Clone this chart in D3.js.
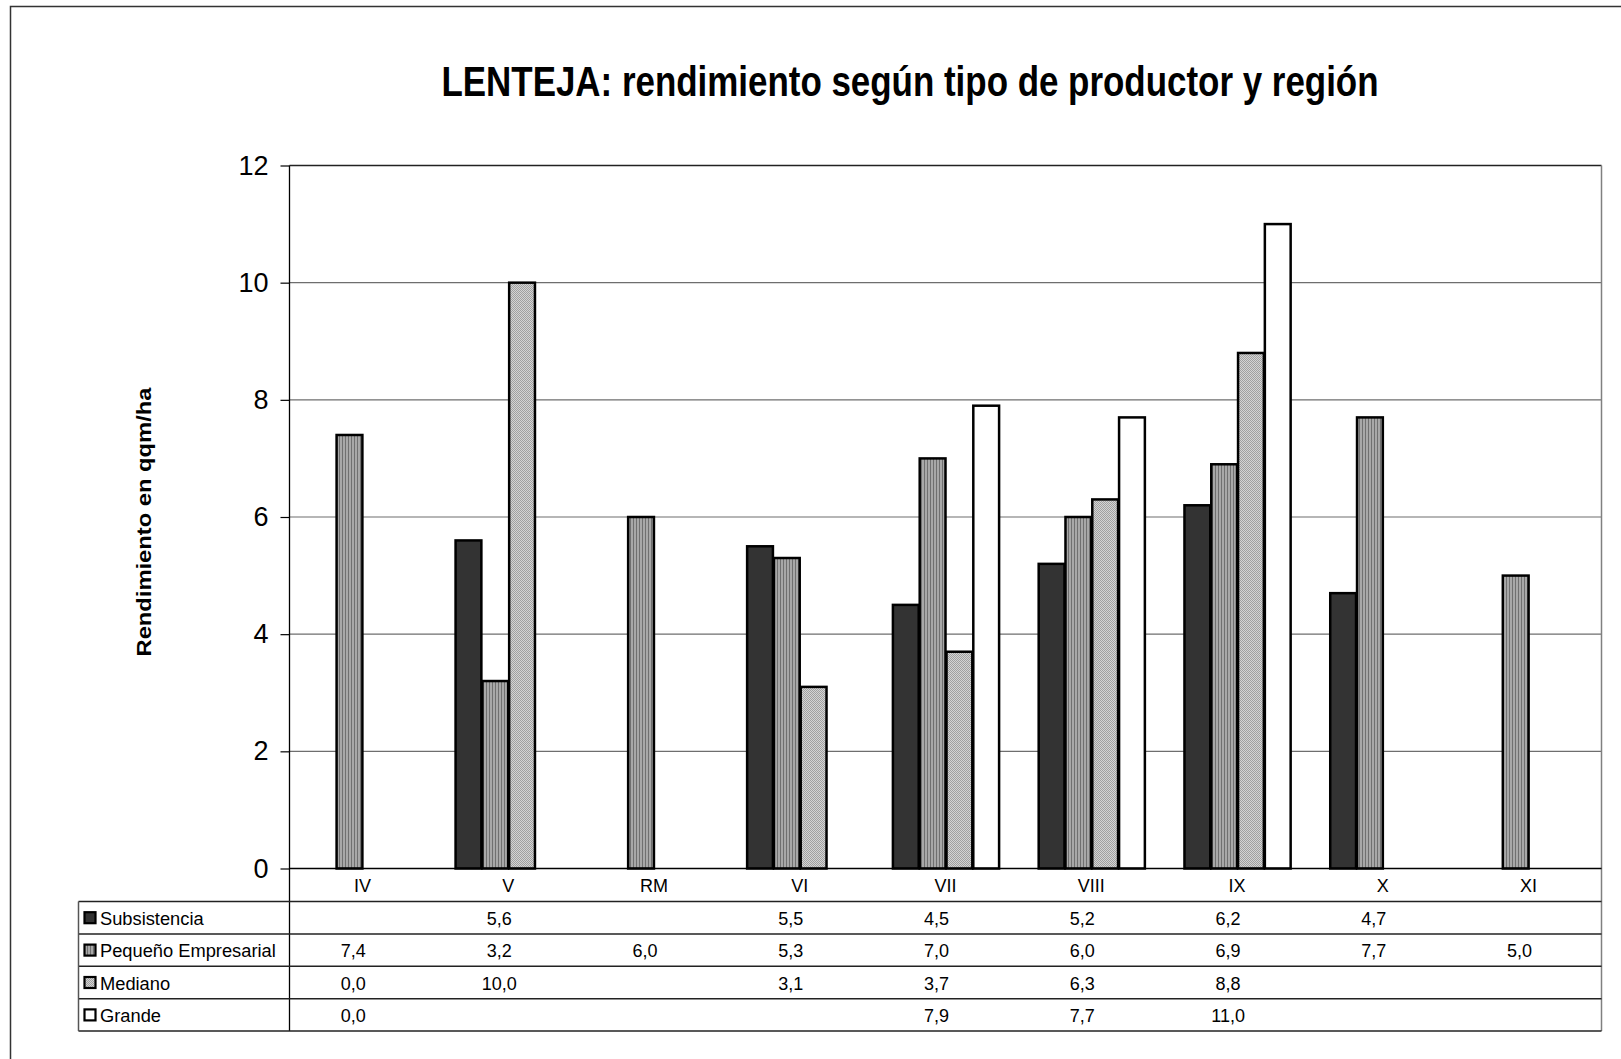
<!DOCTYPE html>
<html><head><meta charset="utf-8">
<script src="https://cdn.jsdelivr.net/npm/d3@7"></script>
<style>
html,body{margin:0;padding:0;background:#fff;}
svg{display:block;}
text{font-family:"Liberation Sans",Arial,sans-serif;fill:#000;}
</style></head>
<body>
<svg id="chart" width="1621" height="1059"></svg>
<script>
// ---- data ----
const categories = ["IV","V","RM","VI","VII","VIII","IX","X","XI"];
const seriesNames = ["Subsistencia","Pequeño Empresarial","Mediano","Grande"];
const subsistencia = [null,5.6,null,5.5,4.5,5.2,6.2,4.7,null];
const pequenoEmpresarial = [7.4,3.2,6.0,5.3,7.0,6.0,6.9,7.7,5.0];
const mediano = [0.0,10.0,null,3.1,3.7,6.3,8.8,null,null];
const grande = [0.0,null,null,null,7.9,7.7,11.0,null,null];
const yTicks = [0,2,4,6,8,10,12];
const titleText = "LENTEJA: rendimiento según tipo de productor y región";
const yLabel = "Rendimiento en qqm/ha";

const seriesValues = [subsistencia, pequenoEmpresarial, mediano, grande];

// ---- layout ----
const svg = d3.select("#chart");
const plotL = 289.5, plotR = 1601.5, plotT = 165.5, plotB = 868.5;
const tableL = 78.5, rowTop = 901.5, rowH = 32.4;

// patterns
const defs = svg.append("defs");
const pStripe = defs.append("pattern").attr("id","pStripe").attr("patternUnits","userSpaceOnUse")
  .attr("width",3).attr("height",3);
pStripe.append("rect").attr("width",3).attr("height",3).attr("fill","#a8a8a8");
pStripe.append("rect").attr("width",1).attr("height",3).attr("fill","#707070");
const pCheck = defs.append("pattern").attr("id","pCheck").attr("patternUnits","userSpaceOnUse")
  .attr("width",2).attr("height",2);
pCheck.append("rect").attr("width",2).attr("height",2).attr("fill","#d4d4d4");
pCheck.append("rect").attr("width",1).attr("height",1).attr("fill","#a0a0a0");
pCheck.append("rect").attr("x",1).attr("y",1).attr("width",1).attr("height",1).attr("fill","#a0a0a0");
const fills = ["#333333","url(#pStripe)","url(#pCheck)","#ffffff"];

// frame
svg.append("path").attr("d",`M10.5,1059 V6.5 H1621`).attr("fill","none").attr("stroke","#333").attr("stroke-width",1.5);

// scales
const x0 = d3.scaleBand().domain(categories).range([plotL, plotR]).paddingInner(0).paddingOuter(0);
const x1 = d3.scaleBand().domain(seriesNames).range([0, x0.bandwidth()]).paddingInner(0).paddingOuter(0.72);
const y = d3.scaleLinear().domain([0,12]).range([plotB, plotT]);

// gridlines
svg.append("g").selectAll("line").data(yTicks.filter(d=>d>0 && d<12)).join("line")
  .attr("x1",plotL).attr("x2",plotR).attr("y1",d=>y(d)).attr("y2",d=>y(d))
  .attr("stroke","#6e6e6e").attr("stroke-width",1.2);
// plot top / right
svg.append("line").attr("x1",plotL).attr("x2",plotR).attr("y1",y(12)).attr("y2",y(12)).attr("stroke","#222").attr("stroke-width",1.5);
svg.append("line").attr("x1",plotR).attr("x2",plotR).attr("y1",plotT).attr("y2",rowTop+4*rowH).attr("stroke","#808080").attr("stroke-width",1.5);

// y axis
const yAxis = d3.axisLeft(y).tickValues(yTicks).tickSize(9).tickPadding(12).tickFormat(d3.format("d"));
const gy = svg.append("g").attr("transform",`translate(${plotL},0)`).call(yAxis);
gy.select(".domain").remove();
gy.selectAll(".tick line").attr("stroke","#000").attr("stroke-width",1.2);
gy.selectAll(".tick text").attr("font-size",27).attr("font-family","Liberation Sans, Arial, sans-serif").attr("fill","#000");
svg.append("line").attr("x1",plotL).attr("x2",plotL).attr("y1",plotT).attr("y2",rowTop+4*rowH).attr("stroke","#000").attr("stroke-width",1.3);

// bars
const barData = [];
categories.forEach((c,ci)=>{
  seriesNames.forEach((s,si)=>{
    const v = seriesValues[si][ci];
    if (v !== null) barData.push({c, s, si, v});
  });
});
svg.append("g").selectAll("rect").data(barData.filter(d=>d.v>0)).join("rect")
  .attr("x",d=>x0(d.c)+x1(d.s)+1)
  .attr("width",x1.bandwidth()-1)
  .attr("y",d=>y(d.v))
  .attr("height",d=>y(0)-y(d.v))
  .attr("fill",d=>fills[d.si])
  .attr("stroke","#000").attr("stroke-width",2.5);

// zero line
svg.append("line").attr("x1",plotL).attr("x2",plotR).attr("y1",y(0)).attr("y2",y(0)).attr("stroke","#000").attr("stroke-width",1.5);

// category labels
const xAxis = d3.axisBottom(x0).tickSize(0).tickPadding(11);
const gx = svg.append("g").attr("transform",`translate(0,${plotB})`).call(xAxis);
gx.select(".domain").remove();
gx.selectAll(".tick text").attr("font-size",18).attr("font-family","Liberation Sans, Arial, sans-serif").attr("fill","#000");

// data table
const tbl = svg.append("g");
d3.range(5).forEach(i=>{
  tbl.append("line").attr("x1",tableL).attr("x2",plotR)
    .attr("y1",rowTop+i*rowH).attr("y2",rowTop+i*rowH)
    .attr("stroke","#222").attr("stroke-width",1.5);
});
tbl.append("line").attr("x1",tableL).attr("x2",tableL).attr("y1",rowTop).attr("y2",rowTop+4*rowH)
  .attr("stroke","#555").attr("stroke-width",1.5);

const fmt = v => d3.format(".1f")(v).replace(".",",");
seriesNames.forEach((s,si)=>{
  const cy = rowTop + si*rowH + rowH/2;
  tbl.append("rect").attr("x",84.5).attr("y",cy-5.5).attr("width",11).attr("height",11)
    .attr("fill",fills[si]).attr("stroke","#000").attr("stroke-width",2.2);
  tbl.append("text").attr("x",100).attr("y",cy+7).attr("font-size",18.3).text(s);
  tbl.selectAll(null).data(categories.map((c,ci)=>({c, v:seriesValues[si][ci]})).filter(d=>d.v!==null))
    .join("text")
    .attr("x",d=>x0(d.c)+x0.bandwidth()/2-9)
    .attr("y",cy+7)
    .attr("text-anchor","middle").attr("font-size",18)
    .text(d=>fmt(d.v));
});

// title
svg.append("text").attr("x",910).attr("y",96).attr("text-anchor","middle")
  .attr("font-size",43).attr("font-weight","bold")
  .attr("textLength",937).attr("lengthAdjust","spacingAndGlyphs")
  .text(titleText);

// y label
svg.append("text").attr("transform","translate(151,522) rotate(-90)")
  .attr("text-anchor","middle").attr("font-size",20).attr("font-weight","bold")
  .attr("textLength",269).attr("lengthAdjust","spacingAndGlyphs")
  .text(yLabel);
</script>
</body></html>
